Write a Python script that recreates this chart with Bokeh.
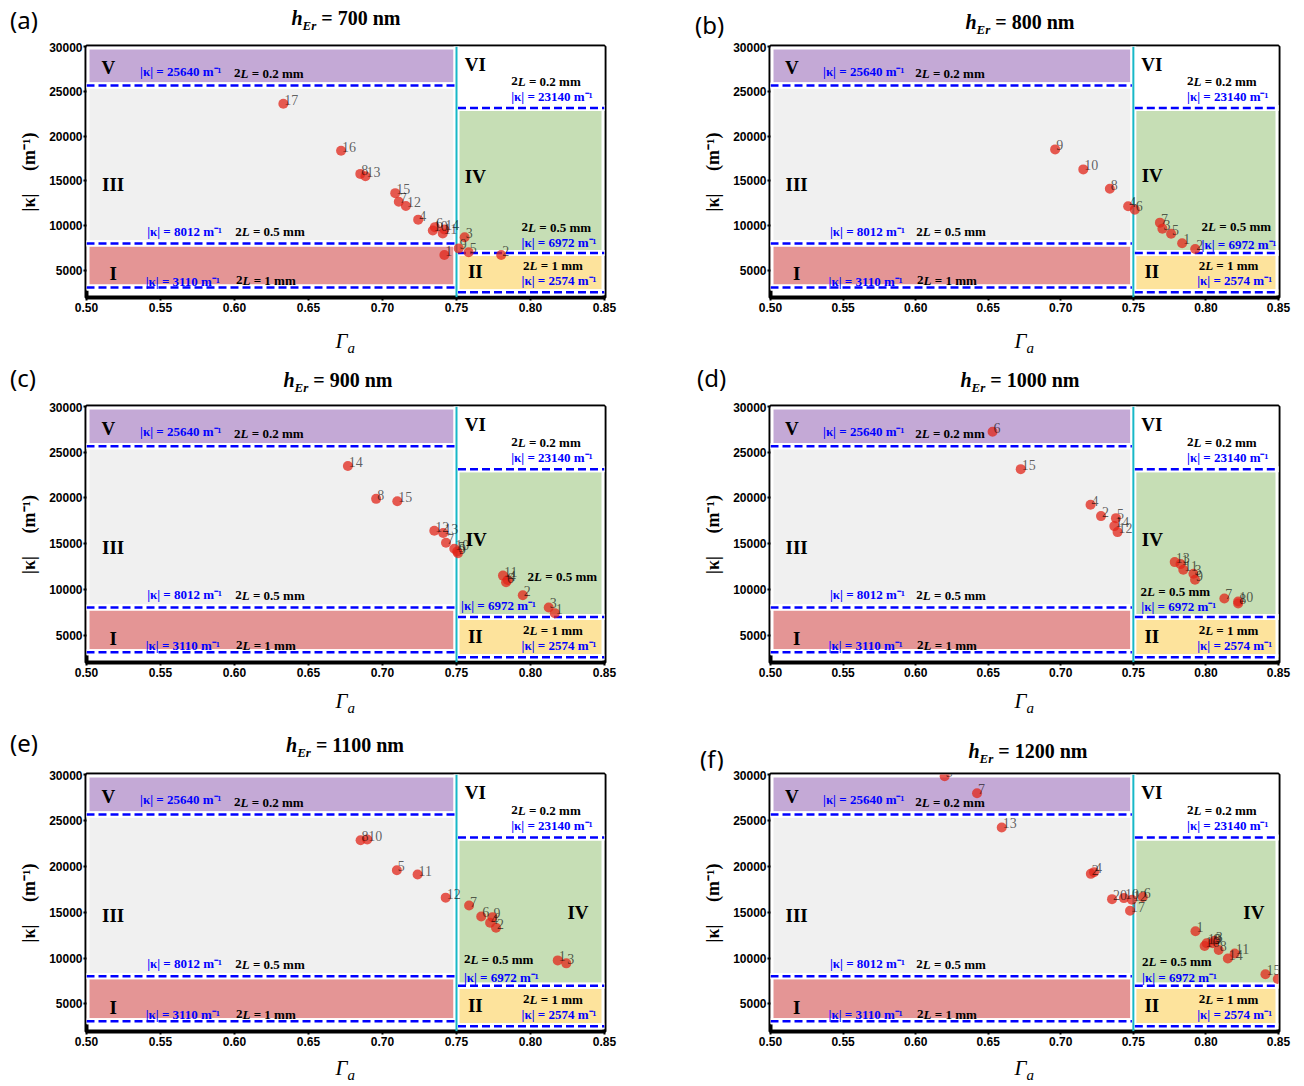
from bokeh.plotting import figure
from bokeh.models import Range1d, FixedTicker, NumeralTickFormatter, Label, LabelSet, ColumnDataSource, Div
from bokeh.layouts import row, column
from bokeh.core.properties import value
from bokeh.embed import file_html
from bokeh.resources import INLINE

# ------------------------- data -------------------------
panel_letters = ["(a)", "(b)", "(c)", "(d)", "(e)", "(f)"]
h_er_nm = [700, 800, 900, 1000, 1100, 1200]

a_ids = [17, 16, 8, 13, 15, 7, 12, 4, 6, 10, 14, 11, 3, 9, 1, 5, 2]
a_gamma = [0.633, 0.672, 0.685, 0.6885, 0.7086, 0.711, 0.7158, 0.7241, 0.7354, 0.734, 0.7418, 0.7407,
           0.7555, 0.7515, 0.7418, 0.7582, 0.7802]
a_kappa = [23620, 18375, 15790, 15530, 13640, 12690, 12216, 10685, 9850, 9480, 9590, 9150,
           8717, 7480, 6750, 7040, 6750]

b_ids = [9, 10, 8, 4, 6, 7, 3, 5, 1, 2]
b_gamma = [0.6961, 0.7155, 0.7338, 0.7464, 0.751, 0.7683, 0.770, 0.776, 0.7836, 0.7926]
b_kappa = [18520, 16290, 14140, 12170, 11800, 10350, 9680, 9120, 8046, 7415]

c_ids = [14, 8, 15, 12, 13, 7, 10, 5, 9, 11, 4, 6, 2, 3, 1]
c_gamma = [0.6766, 0.6957, 0.710, 0.735, 0.741, 0.7429, 0.7485, 0.7505, 0.751, 0.7814, 0.7846, 0.7835,
           0.7948, 0.8123, 0.8164]
c_kappa = [23496, 19900, 19644, 16410, 16156, 15100, 14448, 14150, 13940, 11504, 11032, 10778,
           9360, 8016, 7398]

d_ids = [6, 15, 4, 2, 5, 14, 12, 13, 1, 11, 3, 9, 7, 10, 8]
d_gamma = [0.653, 0.6724, 0.7205, 0.7277, 0.738, 0.7369, 0.7391, 0.7785, 0.7825, 0.7844, 0.7914, 0.7925,
           0.8127, 0.8222, 0.8222]
d_kappa = [27230, 23150, 19250, 18010, 17790, 16917, 16261, 12981, 12762, 12143, 11706, 11050,
           9009, 8681, 8460]

e_ids = [8, 10, 5, 11, 12, 7, 6, 9, 4, 2, 1, 3]
e_gamma = [0.6852, 0.6897, 0.7097, 0.7237, 0.7427, 0.7585, 0.7667, 0.7743, 0.7727, 0.7767, 0.8184, 0.8242]
e_kappa = [22842, 22914, 19568, 19101, 16583, 15719, 14532, 14460, 13849, 13309, 9748, 9424]

f_ids = [5, 7, 13, 2, 4, 20, 10, 12, 6, 17, 1, 16, 19, 9, 3, 8, 14, 11, 15, 18]
f_gamma = [0.620, 0.6423, 0.6593, 0.7207, 0.7229, 0.7353, 0.7435, 0.749, 0.7565, 0.7477, 0.7928, 0.7991,
           0.8005, 0.8046, 0.806, 0.8088, 0.8151, 0.8198, 0.8410, 0.8495]
f_kappa = [29814, 27954, 24234, 19174, 19360, 16421, 16533, 16347, 16644, 15156, 12924, 11324,
           11622, 11622, 11882, 10878, 9948, 10506, 8237, 7716]

panel_ids = [a_ids, b_ids, c_ids, d_ids, e_ids, f_ids]
panel_gamma = [a_gamma, b_gamma, c_gamma, d_gamma, e_gamma, f_gamma]
panel_kappa = [a_kappa, b_kappa, c_kappa, d_kappa, e_kappa, f_kappa]

# region thresholds |kappa| (m^-1) and lengths 2L (mm)
gamma_split = 0.75
left_kappa = [25640, 8012, 3110]
right_kappa = [23140, 6972, 2574]
lengths_mm = ["0.2", "0.5", "1"]
left_regions = ["V", "III", "I"]
right_regions = ["VI", "IV", "II"]

x_ticks = [0.50, 0.55, 0.60, 0.65, 0.70, 0.75, 0.80, 0.85]
y_ticks = [5000, 10000, 15000, 20000, 25000, 30000]

# ------------------------- layout / style -------------------------
X0, X1, Y0, Y1 = 0.5, 0.85, 2000, 30000
XC = (X0 + X1) / 2
SERIF = "Liberation Serif"
left_fill = ["#c4a9d6", "#f0f0f0", "#e49595"]
right_fill = ["#ffffff", "#c6deb5", "#fde39c"]

COLS = [dict(w=660, bl=86, fw=518), dict(w=642, bl=110, fw=508)]
ROWS = [dict(head=42, fh=251, foot=41, gd=21),
        dict(head=42, fh=256, foot=40, gd=16),
        dict(head=46, fh=257, foot=31, gd=14)]
MAIN_BT, MAIN_BB = 4, 22
# header: letter (x, y centre) and title (x centre, y centre), in header pixels
HEAD = [dict(lx=10, ly=20, tx=346, ty=18), dict(lx=35, ly=25, tx=360, ty=22),
        dict(lx=10, ly=18, tx=338, ty=20), dict(lx=37, ly=18, tx=360, ty=20),
        dict(lx=10, ly=19, tx=345, ty=21), dict(lx=40, ly=35, tx=368, ty=27)]

MID_RIGHT = [
    dict(l=(0.794, 9850), k=(0.794, 8130), iv=(0.7627, 15530)),
    dict(l=(0.797, 9870), k=(0.797, 7900), iv=(0.763, 15620)),
    dict(l=(0.798, 11400), k=(0.7531, 8230), iv=(0.7633, 15500)),
    dict(l=(0.755, 9740), k=(0.7555, 8130), iv=(0.7631, 15420)),
    dict(l=(0.755, 9860), k=(0.755, 7910), iv=(0.8321, 15000)),
    dict(l=(0.756, 9580), k=(0.756, 7900), iv=(0.833, 14970)),
]

def lab(p, x, y, text, size, style="bold", color="black", align="left", dx=0, dy=0,
        font=SERIF, baseline="middle"):
    p.add_layout(Label(x=x, y=y, text=text, text_font=font, text_font_size=f"{size}px",
                       text_font_style=style, text_color=color, text_align=align,
                       text_baseline=baseline, x_offset=dx, y_offset=dy))

def two_L(p, x, y, length, size=13):
    w2 = 0.5 * size
    wL = 0.611 * size
    sp = 0.25 * size
    lab(p, x, y, "2", size)
    lab(p, x, y, "L", size, style="bold italic", dx=w2)
    lab(p, x, y, f"= {length} mm", size, dx=w2 + wL + sp)

def kap(p, x, y, k, size=13):
    lab(p, x, y, f"|κ| = {k} m⁻¹", size, color="blue")

def header(i, w, h):
    hd = HEAD[i]
    html = (
        f'<div style="position:relative;width:{w}px;height:{h}px;overflow:visible;">'
        f'<span style="position:absolute;left:{hd["lx"]}px;top:{hd["ly"] - 16}px;line-height:32px;'
        f'font-family:\'Noto Sans\';font-size:24px;color:black;white-space:nowrap;">{panel_letters[i]}</span>'
        f'<span style="position:absolute;left:{hd["tx"]}px;top:{hd["ty"] - 13}px;line-height:26px;'
        f'transform:translateX(-50%);white-space:nowrap;font-family:\'Liberation Serif\';'
        f'font-weight:bold;font-size:20px;color:black;">'
        f'<i>h</i><sub style="font-size:13px;vertical-align:-5px;line-height:0;"><i>Er</i></sub>'
        f'&nbsp;= {h_er_nm[i]} nm</span></div>'
    )
    return Div(text=html, width=w, height=h, margin=0)

def build(i):
    col = COLS[i % 2]
    rw = ROWS[i // 2]
    br = col["w"] - col["bl"] - col["fw"]
    mh = MAIN_BT + rw["fh"] + MAIN_BB
    p = figure(width=col["w"], height=mh, x_range=Range1d(X0, X1), y_range=Range1d(Y0, Y1),
               output_backend="svg", toolbar_location=None,
               min_border_left=col["bl"], min_border_right=br,
               min_border_top=MAIN_BT, min_border_bottom=MAIN_BB)
    p.xgrid.visible = False
    p.ygrid.visible = False
    p.background_fill_color = "white"
    p.border_fill_color = "white"
    p.outline_line_color = "black"
    p.outline_line_width = 4

    tops_l = [Y1] + left_kappa[:-1]
    tops_r = [Y1] + right_kappa[:-1]
    p.quad(left=[X0] * 3, right=[gamma_split] * 3, top=tops_l, bottom=left_kappa,
           fill_color=left_fill, line_color="white", line_width=6)
    p.quad(left=[gamma_split] * 3, right=[X1] * 3, top=tops_r, bottom=right_kappa,
           fill_color=right_fill, line_color="white", line_width=6)
    for x0, x1, ks in [(X0, gamma_split - 0.001, left_kappa), (gamma_split + 0.001, X1, right_kappa)]:
        p.segment(x0=[x0] * 3, x1=[x1] * 3, y0=ks, y1=ks, line_color="white", line_width=6)
        p.segment(x0=[x0] * 3, x1=[x1] * 3, y0=ks, y1=ks, line_color="blue", line_width=2.5,
                  line_dash="8 4")
    p.segment(x0=[gamma_split], x1=[gamma_split], y0=[Y0], y1=[Y1], line_color="#18b8c8", line_width=2)

    src = ColumnDataSource(dict(x=panel_gamma[i], y=panel_kappa[i], t=[str(v) for v in panel_ids[i]]))
    p.scatter("x", "y", source=src, size=10, fill_color="#e2261a", fill_alpha=0.75, line_color=None)
    p.add_layout(LabelSet(x="x", y="y", text="t", source=src, x_offset=1, y_offset=-1,
                          text_align="left", text_baseline="bottom", text_font="DejaVu Sans",
                          text_font_size="14px", text_color="black", text_alpha=0.62))

    lab(p, 0.5147, 27630, left_regions[0], 19, align="center")
    lab(p, 0.518, 14585, left_regions[1], 19, align="center")
    lab(p, 0.518, 4640, left_regions[2], 19, align="center")
    lab(p, 0.7627, 28000, right_regions[0], 19, align="center")
    m = MID_RIGHT[i]
    lab(p, m["iv"][0], m["iv"][1], right_regions[1], 19, align="center")
    lab(p, 0.7627, 4850, right_regions[2], 19, align="center")

    kap(p, 0.5362, 27250, left_kappa[0]); two_L(p, 0.5997, 27000, lengths_mm[0])
    kap(p, 0.541, 9410, left_kappa[1]); two_L(p, 0.6005, 9340, lengths_mm[1])
    kap(p, 0.540, 3840, left_kappa[2]); two_L(p, 0.601, 3900, lengths_mm[2])
    two_L(p, 0.787, 26100, lengths_mm[0]); kap(p, 0.787, 24450, right_kappa[0])
    two_L(p, m["l"][0], m["l"][1], lengths_mm[1]); kap(p, m["k"][0], m["k"][1], right_kappa[1])
    two_L(p, 0.795, 5520, lengths_mm[2]); kap(p, 0.794, 3880, right_kappa[2])

    p.xaxis.ticker = FixedTicker(ticks=x_ticks)
    p.yaxis.ticker = FixedTicker(ticks=y_ticks)
    p.xaxis.formatter = NumeralTickFormatter(format="0.00")
    p.yaxis.formatter = NumeralTickFormatter(format="0")
    for ax in (p.xaxis, p.yaxis):
        ax.axis_line_color = None
        ax.major_tick_line_color = "black"
        ax.major_tick_line_width = 2
        ax.major_tick_in = 0
        ax.major_tick_out = 3
        ax.minor_tick_line_color = None
        ax.major_label_text_font = "Liberation Sans"
        ax.major_label_text_font_style = "bold"
        ax.major_label_text_font_size = "12px"
        ax.major_label_text_color = "black"
    p.xaxis.major_label_standoff = 2
    p.yaxis.major_label_standoff = 1
    p.yaxis.axis_label = "|κ|\u00a0\u00a0\u00a0\u00a0\u00a0(m⁻¹)"
    p.yaxis.axis_label_text_font = SERIF
    p.yaxis.axis_label_text_font_style = "bold"
    p.yaxis.axis_label_text_font_size = "18px"
    p.yaxis.axis_label_text_color = "black"
    p.yaxis.axis_label_standoff = 7

    head = header(i, col["w"], rw["head"])

    # footer: x-axis label Gamma_a (same borders as main, so frames align)
    F = rw["foot"]
    foot = figure(width=col["w"], height=F, x_range=Range1d(X0, X1), y_range=Range1d(0, F),
                  x_axis_location=None, y_axis_location=None,
                  min_border_left=col["bl"], min_border_right=br, min_border_top=0, min_border_bottom=0,
                  output_backend="svg", toolbar_location=None)
    foot.outline_line_color = None
    foot.background_fill_color = "white"
    foot.border_fill_color = "white"
    foot.xgrid.visible = False
    foot.ygrid.visible = False
    foot.grid.visible = False
    gy = F - rw["gd"]
    foot.text(x=[XC], y=[gy], text=["Γ"], text_font=value(SERIF), text_font_size="21px",
              text_font_style="italic", text_align="right", text_baseline="middle", x_offset=2)
    foot.text(x=[XC], y=[gy - 7], text=["a"], text_font=value(SERIF), text_font_size="15px",
              text_font_style="italic", text_align="left", text_baseline="middle", x_offset=2)

    return column(head, p, foot)

cells = [build(i) for i in range(6)]
layout = column(row(cells[0], cells[1]), row(cells[2], cells[3]), row(cells[4], cells[5]))
open("out.html", "w").write(file_html(layout, INLINE))
